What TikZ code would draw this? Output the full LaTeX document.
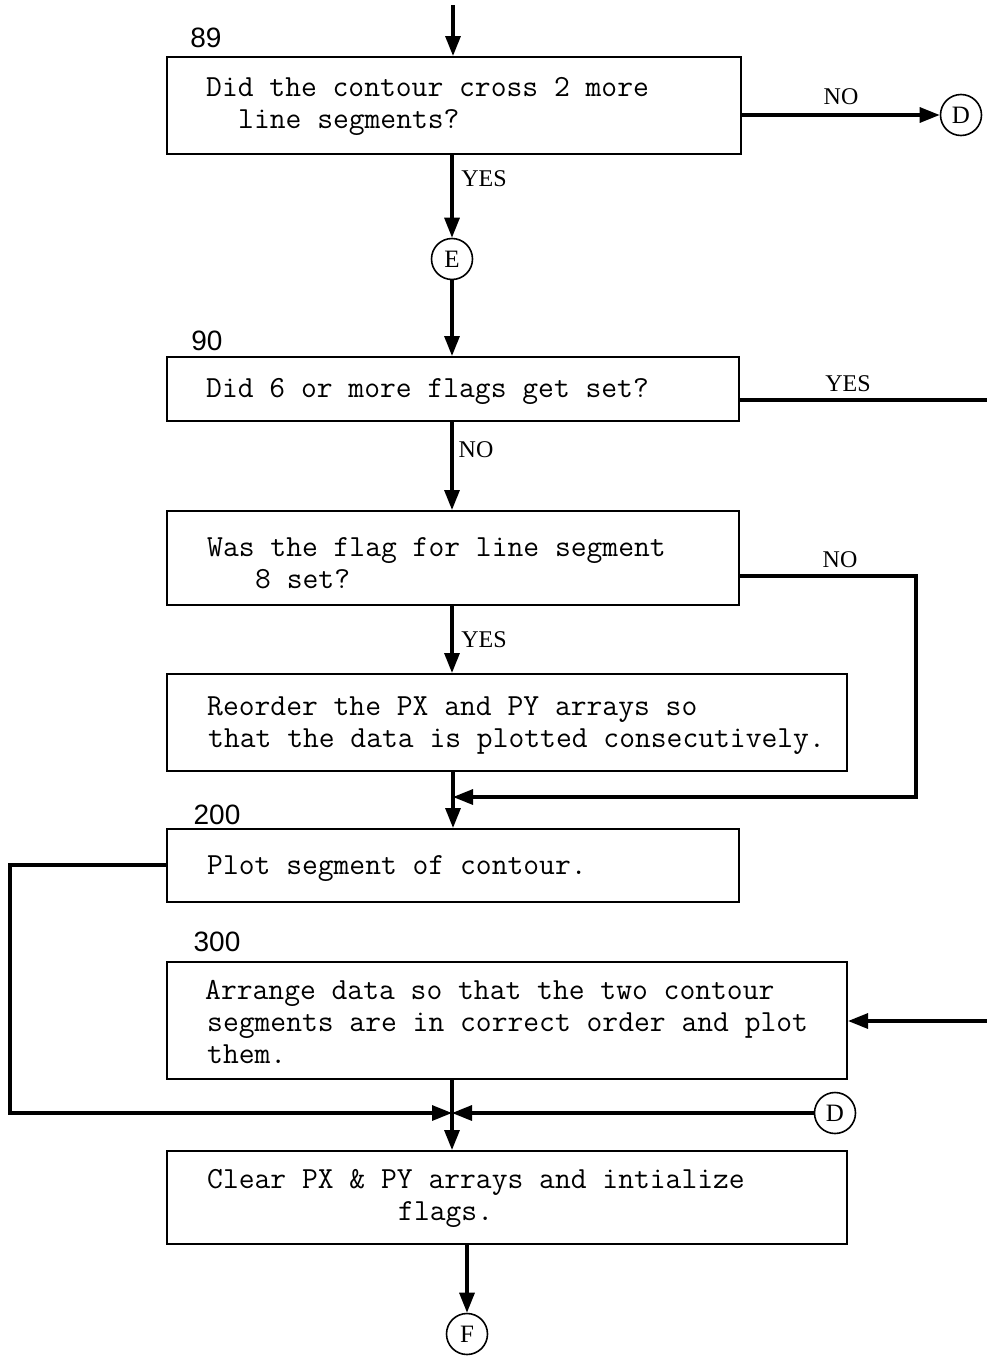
\documentclass[tikz,border=0pt]{standalone}
\usepackage{fontspec}
\newfontfamily\labfont{Liberation Serif}
\newfontfamily\numfont{Liberation Sans}
\usetikzlibrary{arrows.meta}
\begin{document}
\begin{tikzpicture}[x=1pt,y=-1pt,
  box/.style={draw,line width=2pt,rectangle,inner sep=0pt,anchor=north west},
  txt/.style={anchor=base west,inner sep=0pt,font=\ttfamily\fontsize{30.7}{32}\selectfont},
  lbl/.style={inner sep=0pt,font=\labfont\fontsize{24}{24}\selectfont},
  num/.style={inner sep=0pt,font=\numfont\fontsize{28}{28}\selectfont},
  conn/.style={draw,circle,line width=1.6pt,minimum size=41pt,inner sep=0pt,font=\labfont\fontsize{25}{25}\selectfont},
  flow/.style={line width=3.2pt,-{Triangle[length=20pt,width=15pt]}},
  plain/.style={line width=3.2pt}]
\useasboundingbox (0,0) rectangle (987,1357);

% boxes
\node[box,minimum width=574pt,minimum height=97pt] (b89) at (166,56) {};
\node[box,minimum width=572pt,minimum height=64pt] (b90) at (166,356) {};
\node[box,minimum width=572pt,minimum height=94pt] (b3) at (166,510) {};
\node[box,minimum width=680pt,minimum height=97pt] (b4) at (166,673) {};
\node[box,minimum width=572pt,minimum height=73pt] (b200) at (166,828) {};
\node[box,minimum width=680pt,minimum height=117pt] (b300) at (166,961) {};
\node[box,minimum width=680pt,minimum height=93pt] (bclr) at (166,1150) {};

% connectors (circles)
\node[conn] (cD) at (961,115) {D};
\node[conn] (cE) at (452,259) {E};
\node[conn] (cD2) at (835,1113) {D};
\node[conn] (cF) at (467,1334) {F};

% step numbers
\node[num] (n89) at (206,38) {89};
\node[num] (n90) at (207,341) {90};
\node[num] (n200) at (217,815) {200};
\node[num] (n300) at (217,942) {300};

% texts
\node[txt] (t89a) at (206,96) {Did the contour cross 2 more};
\node[txt] (t89b) at (238,128) {line segments?};
\node[txt] (t90) at (206,397) {Did 6 or more flags get set?};
\node[txt] (t3a) at (207,556) {Was the flag for line segment};
\node[txt] (t3b) at (255,588) {8 set?};
\node[txt] (t4a) at (207,715) {Reorder the PX and PY arrays so};
\node[txt] (t4b) at (208,747) {that the data is plotted consecutively.};
\node[txt] (t200) at (207,874) {Plot segment of contour.};
\node[txt] (t300a) at (205,999) {Arrange data so that the two contour};
\node[txt] (t300b) at (207,1031) {segments are in correct order and plot};
\node[txt] (t300c) at (207,1063) {them.};
\node[txt] (tca) at (207,1188) {Clear PX \& PY arrays and intialize};
\node[txt] (tcb) at (398,1220) {flags.};

% branch labels
\node[lbl] (l1) at (841,97) {NO};
\node[lbl] (l2) at (484,179) {YES};
\node[lbl] (l3) at (848,384) {YES};
\node[lbl] (l4) at (476,450) {NO};
\node[lbl] (l5) at (840,560) {NO};
\node[lbl] (l6) at (484,640) {YES};

% helper coordinates
\coordinate (top) at (453,5);
\coordinate (exitR) at (987,400);
\coordinate (j1) at (453,797);
\coordinate (rx) at (916,576);
\coordinate (lx) at (10,865);
\coordinate (j2) at (452,1113);
\coordinate (inR) at (987,1021);

% flow lines
\draw[flow] (top) -- (top |- b89.north);
\draw[flow] (b89.east |- cD) -- (cD.west);
\draw[flow] (b89.south -| cE) -- (cE.north);
\draw[flow] (cE.south) -- (cE |- b90.north);
\draw[plain] (b90.east |- exitR) -- (exitR);
\draw[flow] (b90.south -| cE) -- (cE |- b3.north);
\draw[flow] (b3.east |- rx) -- (rx) -- (rx |- j1) -- (j1);
\draw[flow] (b3.south -| cE) -- (cE |- b4.north);
\draw[flow] (b4.south -| j1) -- (j1 |- b200.north);
\draw[flow] (b200.west |- lx) -- (lx) -- (lx |- j2) -- (j2);
\draw[flow] (inR) -- (b300.east |- inR);
\draw[flow] (j2 |- b300.south) -- (j2 |- bclr.north);
\draw[flow] (cD2.west) -- (j2);
\draw[flow] (cF |- bclr.south) -- (cF.north);
\end{tikzpicture}
\end{document}
